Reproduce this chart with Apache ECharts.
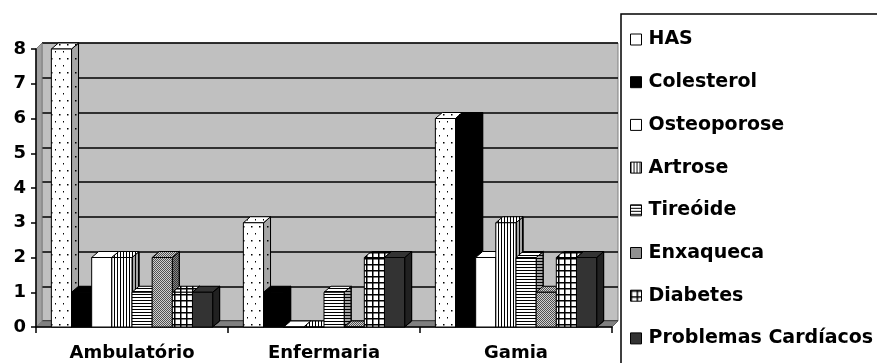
<!DOCTYPE html>
<html><head><meta charset="utf-8">
<script src="https://cdn.jsdelivr.net/npm/echarts@6/dist/echarts.min.js"></script>
<style>html,body{margin:0;padding:0;background:#fff}#c{width:877px;height:363px}</style>
</head><body><div id="c"></div>
<script>
// ---- data ----
const categories = ['Ambulatório', 'Enfermaria', 'Gamia'];
const seriesNames = ['HAS', 'Colesterol', 'Osteoporose', 'Artrose', 'Tireóide', 'Enxaqueca', 'Diabetes', 'Problemas Cardíacos'];
const HAS = [8, 3, 6];
const Colesterol = [1, 1, 6];
const Osteoporose = [2, 0, 2];
const Artrose = [2, 0, 3];
const Tireoide = [1, 1, 2];
const Enxaqueca = [2, 0, 1];
const Diabetes = [1, 2, 2];
const ProblemasCardiacos = [1, 2, 2];
const yTickLabels = ['0', '1', '2', '3', '4', '5', '6', '7', '8'];
const seriesValues = [HAS, Colesterol, Osteoporose, Artrose, Tireoide, Enxaqueca, Diabetes, ProblemasCardiacos];

// ---- patterns ----
function pat(w, h, draw) {
  const c = document.createElement('canvas'); c.width = w; c.height = h;
  const g = c.getContext('2d'); draw(g, w, h);
  return { image: c, repeat: 'repeat' };
}
const fills = [
  pat(8, 14, (g) => { g.fillStyle = '#fff'; g.fillRect(0, 0, 8, 14); g.fillStyle = '#000'; g.fillRect(3, 2, 1.5, 1.5); g.fillRect(7, 9, 1.5, 1.5); }),
  '#000000',
  '#ffffff',
  pat(3, 4, (g) => { g.fillStyle = '#fff'; g.fillRect(0, 0, 3, 4); g.fillStyle = '#000'; g.fillRect(0, 0, 1, 4); }),
  pat(4, 3, (g) => { g.fillStyle = '#fff'; g.fillRect(0, 0, 4, 3); g.fillStyle = '#000'; g.fillRect(0, 0, 4, 1); }),
  pat(2, 2, (g) => { g.fillStyle = '#d0d0d0'; g.fillRect(0, 0, 2, 2); g.fillStyle = '#505050'; g.fillRect(0, 0, 1, 1); g.fillRect(1, 1, 1, 1); }),
  pat(6, 6, (g) => { g.fillStyle = '#fff'; g.fillRect(0, 0, 6, 6); g.fillStyle = '#000'; g.fillRect(0, 0, 6, 1.5); g.fillRect(0, 0, 1.5, 6); }),
  '#333333'
];
const legendFills = ['#ffffff', '#000000', '#ffffff', fills[3], fills[4], fills[5], fills[6], '#333333'];

// ---- layout ----
const G = { left: 36, right: 612, top: 49, bottom: 327 };
const WALL = { dx: 6, dy: 6 };
const DX = 7, DY = 6, GROUP = 0.84;
const N = seriesNames.length;

function makeRender(si) {
  return function (params, api) {
    const cat = api.value(0), v = api.value(1);
    const b = api.coord([cat, 0]), t = api.coord([cat, v]);
    const cw = api.size([1, 0])[0];
    const gw = cw * GROUP, bw = gw / N;
    const x = b[0] - gw / 2 + si * bw, w = bw, y0 = b[1], y1 = t[1];
    const fill = fills[si];
    const sidePts = [[x + w, y1], [x + w + DX, y1 - DY], [x + w + DX, y0 - DY], [x + w, y0]];
    return {
      type: 'group',
      children: [
        { type: 'polygon', shape: { points: sidePts }, style: { fill: fill, stroke: '#000', lineWidth: 1 } },
        { type: 'polygon', shape: { points: sidePts }, style: { fill: 'rgba(0,0,0,0.35)', stroke: '#000', lineWidth: 1 } },
        { type: 'polygon', shape: { points: [[x, y1], [x + DX, y1 - DY], [x + w + DX, y1 - DY], [x + w, y1]] }, style: { fill: fill, stroke: '#000', lineWidth: 1 } },
        { type: 'rect', shape: { x: x, y: y1, width: w, height: y0 - y1 }, style: { fill: fill, stroke: '#000', lineWidth: 1 } }
      ]
    };
  };
}

const FONT = 'DejaVu Sans';
const series = seriesNames.map((name, si) => ({
  name: name,
  type: 'custom',
  xAxisIndex: 0, yAxisIndex: 0,
  renderItem: makeRender(si),
  itemStyle: { color: legendFills[si], borderColor: '#000', borderWidth: 1 },
  data: seriesValues[si].map((v, i) => [i, v]),
  z: 5
}));

const chart = echarts.init(document.getElementById('c'), null, { renderer: 'canvas' });
chart.setOption({
  animation: false,
  backgroundColor: '#ffffff',
  grid: [
    { left: G.left, top: G.top, width: G.right - G.left, height: G.bottom - G.top, containLabel: false },
    { left: G.left + WALL.dx, top: G.top - WALL.dy, width: G.right - G.left, height: G.bottom - G.top, show: true, backgroundColor: '#C0C0C0', borderColor: '#808080', borderWidth: 1, z: 0 }
  ],
  xAxis: [
    { type: 'category', gridIndex: 0, data: categories,
      axisLine: { lineStyle: { color: '#000', width: 1.5 } },
      axisTick: { show: true, interval: 0, length: 6, lineStyle: { color: '#000', width: 1.5 } },
      axisLabel: { margin: 17, color: '#000', fontFamily: FONT, fontWeight: 'bold', fontSize: 18, interval: 0 },
      z: 3 },
    { type: 'category', gridIndex: 1, data: categories, show: false }
  ],
  yAxis: [
    { type: 'value', gridIndex: 0, min: 0, max: 8, interval: 1,
      axisLine: { show: true, lineStyle: { color: '#000', width: 1.5 } },
      axisTick: { show: true, length: 5, lineStyle: { color: '#000', width: 1.5 } },
      axisLabel: { margin: 10, color: '#000', fontFamily: FONT, fontWeight: 'bold', fontSize: 18, formatter: (v) => yTickLabels[v] },
      splitLine: { show: false }, z: 3 },
    { type: 'value', gridIndex: 1, min: 0, max: 8, interval: 1,
      axisLine: { show: false }, axisTick: { show: false }, axisLabel: { show: false },
      splitLine: { show: true, lineStyle: { color: '#000', width: 1.5 } } }
  ],
  legend: {
    orient: 'vertical', left: 630, top: 30, padding: 0,
    itemWidth: 11, itemHeight: 11, itemGap: 23.7,
    icon: 'rect',
    textStyle: { color: '#000', fontFamily: FONT, fontWeight: 'bold', fontSize: 19, lineHeight: 19, padding: [0, 0, 0, 2] },
    itemStyle: { borderColor: '#000', borderWidth: 1 },
    data: seriesNames.map((n, i) => ({ name: n, itemStyle: { color: legendFills[i], borderColor: '#000', borderWidth: 1 } }))
  },
  graphic: [
    { type: 'polygon', z: 1, silent: true,
      shape: { points: [[G.left, G.bottom], [G.left + WALL.dx, G.bottom - WALL.dy], [G.right + WALL.dx, G.bottom - WALL.dy], [G.right, G.bottom]] },
      style: { fill: '#808080', stroke: '#606060', lineWidth: 1 } },
    { type: 'polygon', z: 1, silent: true,
      shape: { points: [[G.left, G.top], [G.left + WALL.dx, G.top - WALL.dy], [G.left + WALL.dx, G.bottom - WALL.dy], [G.left, G.bottom]] },
      style: { fill: '#A0A0A0', stroke: '#808080', lineWidth: 1 } },
    { type: 'rect', z: 3, silent: true,
      shape: { x: 621, y: 14, width: 300, height: 400 },
      style: { fill: '#ffffff', stroke: '#000', lineWidth: 1.5 } }
  ],
  series: series
});
</script>
</body></html>
